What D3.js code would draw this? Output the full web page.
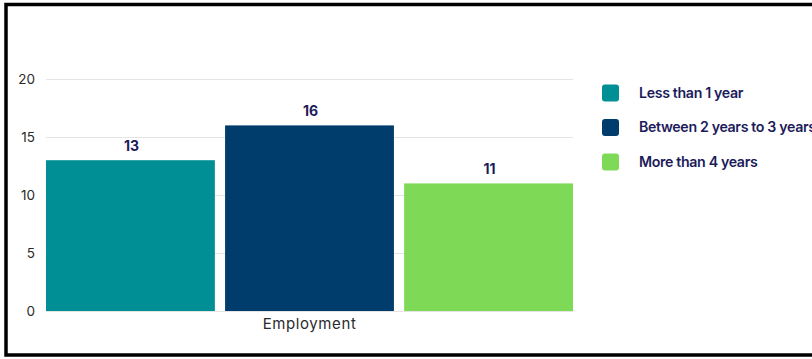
<!DOCTYPE html>
<html>
<head>
<meta charset="utf-8">
<script src="https://cdn.jsdelivr.net/npm/d3@7"></script>
<style>
  html, body { margin: 0; padding: 0; background: #fff; }
  svg { display: block; }
</style>
</head>
<body>
<svg id="chart" width="812" height="359"></svg>
<script>
const categories = ["Employment"];
const seriesNames = ["Less than 1 year", "Between 2 years to 3 years", "More than 4 years"];
const seriesValues = [13, 16, 11];
const seriesColors = ["#008f94", "#003d6c", "#7ed957"];
const yTicks = [0, 5, 10, 15, 20];

const svg = d3.select("#chart");
const W = 812, H = 359;

// frame
svg.append("rect").attr("x", 6).attr("y", 4.5).attr("width", W + 10).attr("height", 350.5)
  .attr("fill", "#fff").attr("stroke", "#000").attr("stroke-width", 3.5);

const plot = { left: 46, right: 573, top: 79, bottom: 311 };

const y = d3.scaleLinear().domain([0, 20]).range([plot.bottom, plot.top]);
const x0 = d3.scaleBand().domain(categories).range([plot.left, plot.right]).padding(0);
const x1 = d3.scaleBand().domain(seriesNames).range([0, x0.bandwidth()]).paddingInner(0.057).paddingOuter(0);

// gridlines
svg.append("g").selectAll("line").data(yTicks).join("line")
  .attr("x1", plot.left).attr("x2", plot.right)
  .attr("y1", d => y(d) + 0.5).attr("y2", d => y(d) + 0.5)
  .attr("stroke", "#e4e4e4").attr("stroke-width", 1);

// y axis
const yAxis = d3.axisLeft(y).tickValues(yTicks).tickSize(0).tickPadding(0);
const gy = svg.append("g").attr("transform", `translate(35,0)`).call(yAxis);
gy.select(".domain").remove();
gy.selectAll("text").attr("font-family", "Inter, 'Open Sans', sans-serif")
  .attr("font-size", 13.5).attr("fill", "#2b2b2b").attr("dy", "0.35em");

// bars
const data = seriesNames.map((n, i) => ({ name: n, value: seriesValues[i], color: seriesColors[i], cat: categories[0] }));
const g = svg.append("g");
g.selectAll("rect").data(data).join("rect")
  .attr("x", d => x0(d.cat) + x1(d.name))
  .attr("width", x1.bandwidth())
  .attr("y", d => y(d.value))
  .attr("height", d => y(0) - y(d.value))
  .attr("fill", d => d.color);

g.selectAll("text.val").data(data).join("text").attr("class", "val")
  .attr("x", d => x0(d.cat) + x1(d.name) + x1.bandwidth() / 2 + 1)
  .attr("y", d => y(d.value) - 9)
  .attr("text-anchor", "middle")
  .attr("font-family", "Inter, 'Open Sans', sans-serif")
  .attr("font-weight", 700).attr("font-size", 14).attr("fill", "#1c1b5a")
  .text(d => d.value);

// x axis
const xAxis = d3.axisBottom(x0).tickSize(0).tickPadding(0);
const gx = svg.append("g").attr("transform", `translate(0,${plot.bottom})`).call(xAxis);
gx.select(".domain").remove();
gx.selectAll("text").attr("font-family", "Inter, 'Open Sans', sans-serif")
  .attr("font-size", 15).attr("letter-spacing", 0.6).attr("fill", "#2b2b2b").attr("dy", "1.2em");

// legend
const legend = svg.append("g");
const ly = d3.scalePoint().domain(seriesNames).range([93, 162]);
const items = legend.selectAll("g").data(data).join("g")
  .attr("transform", d => `translate(602,${ly(d.name)})`);
items.append("rect").attr("x", 0).attr("y", -8.5).attr("width", 17).attr("height", 17)
  .attr("rx", 3).attr("fill", d => d.color);
items.append("text").attr("x", 37).attr("y", 0).attr("dy", "0.35em")
  .attr("font-family", "Inter, 'Open Sans', sans-serif")
  .attr("font-weight", 600).attr("font-size", 14.2).attr("letter-spacing", -0.35)
  .attr("fill", "#1c1b5a").text(d => d.name);
</script>
</body>
</html>
